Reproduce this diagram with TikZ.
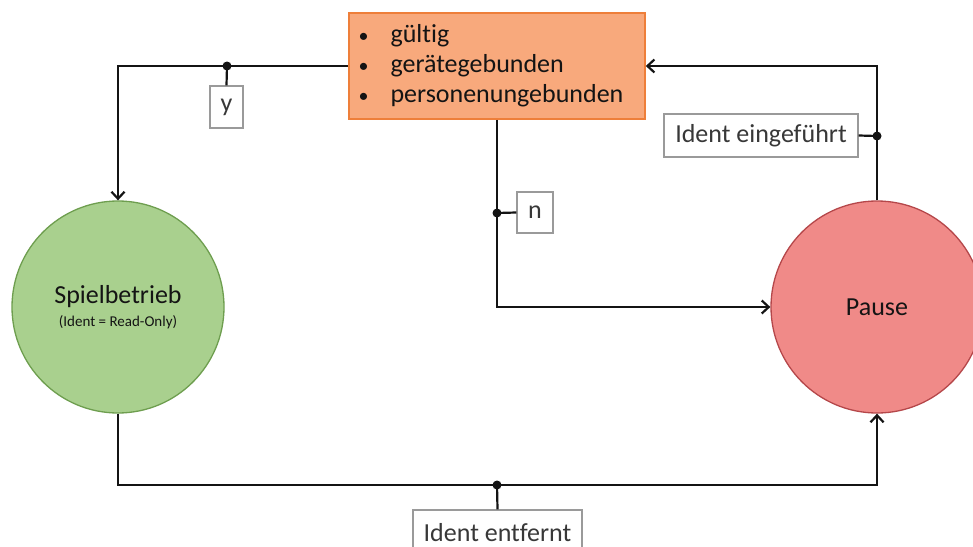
\documentclass[tikz,border=0pt]{standalone}
\usepackage{fontspec}
\setmainfont[RawFeature=-liga]{Carlito}
\usetikzlibrary{arrows.meta}

\definecolor{orangefill}{HTML}{F8A97C}
\definecolor{orangeline}{HTML}{EE7F3A}
\definecolor{greenfill}{HTML}{A9D08E}
\definecolor{greenline}{HTML}{6E9E4F}
\definecolor{redfill}{HTML}{F08A88}
\definecolor{redline}{HTML}{B5474A}
\definecolor{labelline}{HTML}{9A9A9A}
\definecolor{labeltext}{HTML}{383838}
\definecolor{wire}{HTML}{141414}

\tikzset{
  state/.style={circle, draw, line width=1.3pt, minimum size=212pt, inner sep=0pt,
                font=\fontsize{26}{30}\selectfont, text=wire},
  condbox/.style={rectangle, draw=orangeline, fill=orangefill, line width=1.6pt,
                  minimum width=296pt, minimum height=106pt, inner sep=0pt,
                  font=\fontsize{26}{30}\selectfont, text=wire},
  tag/.style={rectangle, draw=labelline, fill=white, line width=1.3pt, inner sep=0pt,
              font=\fontsize{26}{30}\selectfont, text=labeltext},
  wireline/.style={draw=wire, line width=2.2pt},
  arr/.style={wireline, -{Straight Barb[length=7pt,width=13pt,line width=2.2pt]}},
  junction/.style={circle, fill=wire, minimum size=9pt, inner sep=0pt}
}

\begin{document}
\begin{tikzpicture}[x=1pt, y=-1pt]
  \useasboundingbox (0,0) rectangle (973,546);
  \fill[white] (0,0) rectangle (973,546);

  % conditions
  \node[condbox] (cond) at (497,66)
    {\hspace{-12pt}\begin{tabular}{@{}c@{\hspace{22pt}}l@{}}
       {\fontsize{20}{30}\selectfont •} & gültig\\
       {\fontsize{20}{30}\selectfont •} & gerätegebunden\\
       {\fontsize{20}{30}\selectfont •} & personenungebunden
     \end{tabular}};

  % states
  \node[state, fill=greenfill, draw=greenline, align=center] (spiel) at (118,307)
    {Spielbetrieb\\[-7pt]{\fontsize{15}{18}\selectfont (Ident = Read-Only)}};
  \begin{scope}
    \clip (0,0) rectangle (973,546);
    \node[state, fill=redfill, draw=redline] (pause) at (877,307) {Pause};
  \end{scope}

  % branch points
  \coordinate (jy) at (227,66);
  \coordinate (jn) at (497,213);
  \coordinate (je) at (877,136);
  \coordinate (jb) at (497,485);

  % label boxes
  \node[tag, minimum width=33pt, minimum height=42pt] (ybox) at (226.5,107) {y};
  \node[tag, minimum width=36pt, minimum height=41pt] (nbox) at (535,212.5) {n};
  \node[tag, minimum width=194pt, minimum height=43pt] (ein) at (761,135.5) {Ident eingeführt};
  \node[tag, minimum width=169pt, minimum height=44pt, text depth=0pt] (ent) at (497.5,532) {Ident entfernt};

  % transitions
  \draw[arr] (cond.west) -| (spiel.north);
  \draw[arr] (cond.south) |- (pause.west);
  \draw[arr] (pause.north) |- (cond.east);
  \draw[arr] (spiel.south) |- (jb) -| (pause.south);

  % branch stubs to the labels
  \draw[wireline] (jy) -- (ybox.north);
  \draw[wireline] (jn) -- (nbox.west);
  \draw[wireline] (je) -- (ein.east);
  \draw[wireline] (jb) -- (ent.north);

  \node[junction] (dy) at (jy) {};
  \node[junction] (dn) at (jn) {};
  \node[junction] (de) at (je) {};
  \node[junction] (db) at (jb) {};
\end{tikzpicture}
\end{document}
